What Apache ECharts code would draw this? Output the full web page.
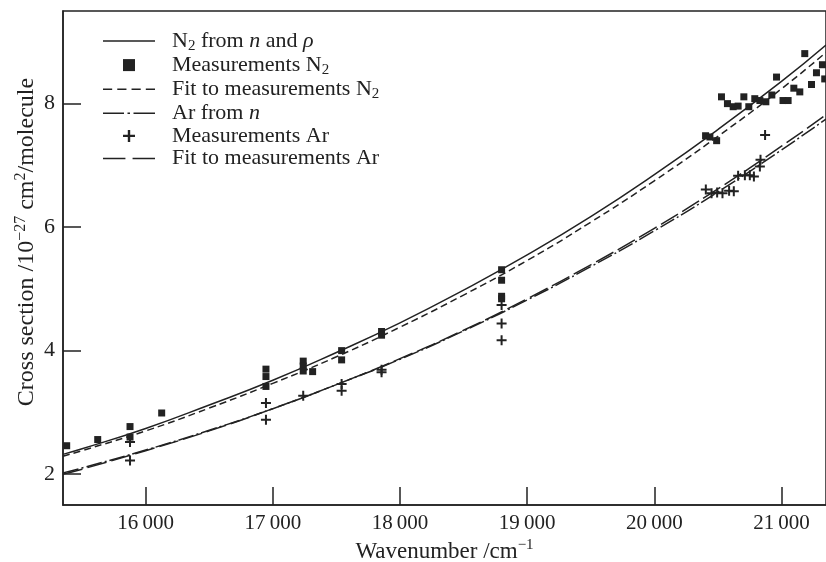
<!DOCTYPE html>
<html lang="en">
<head>
    <meta charset="UTF-8">
    <title>Cross section</title>
    <script src="https://cdn.jsdelivr.net/npm/echarts@6.0.0/dist/echarts.min.js"></script>
    <style>
        body { margin: 0; background: #fff; }
    </style>
</head>
<body>
    <div id="main" style="width: 826px;height:562px;"></div>
    <script type="text/javascript">
        // curve samples (wavenumber in cm^-1, cross section in 1e-27 cm^2)
        const curveWavenumber = [15350, 15500, 16000, 16500, 17000, 17500, 18000, 18500, 19000, 19500, 20000, 20500, 21000, 21350];
        const n2Theory = [2.32, 2.41, 2.74, 3.12, 3.52, 3.97, 4.45, 4.98, 5.55, 6.17, 6.85, 7.58, 8.36, 8.95];
        const n2Fit    = [2.29, 2.38, 2.70, 3.07, 3.47, 3.90, 4.38, 4.90, 5.46, 6.08, 6.75, 7.47, 8.24, 8.83];
        const arTheory = [2.02, 2.10, 2.39, 2.71, 3.06, 3.45, 3.86, 4.32, 4.82, 5.36, 5.94, 6.57, 7.25, 7.75];
        const arFit    = [2.00, 2.08, 2.38, 2.70, 3.06, 3.45, 3.87, 4.33, 4.84, 5.39, 5.98, 6.62, 7.31, 7.82];

        // measured points
        const n2MeasWavenumber = [15379, 15623, 15877, 15877, 16126, 16946, 16946, 16946, 17239, 17239, 17239, 17313, 17541, 17541, 17855, 17855,
            18799, 18799, 18799, 18799, 20403, 20437, 20490, 20528, 20575, 20620, 20659, 20704, 20743, 20790, 20830, 20877, 20924, 20961,
            21012, 21052, 21097, 21144, 21183, 21236, 21275, 21322, 21340];
        const n2MeasValue = [2.46, 2.56, 2.77, 2.60, 2.99, 3.70, 3.58, 3.42, 3.83, 3.75, 3.67, 3.66, 4.00, 3.85, 4.31, 4.25,
            5.31, 5.14, 4.88, 4.84, 7.48, 7.46, 7.40, 8.11, 8.00, 7.95, 7.96, 8.11, 7.95, 8.08, 8.05, 8.03, 8.14, 8.43,
            8.05, 8.05, 8.25, 8.19, 8.81, 8.31, 8.50, 8.63, 8.40];
        const arMeasWavenumber = [15877, 15877, 16946, 16946, 17239, 17541, 17541, 17855, 17855, 18799, 18799, 18799,
            20405, 20450, 20494, 20536, 20588, 20625, 20659, 20712, 20751, 20783, 20830, 20835, 20871];
        const arMeasValue = [2.52, 2.22, 3.15, 2.88, 3.27, 3.46, 3.35, 3.69, 3.65, 4.74, 4.44, 4.17,
            6.61, 6.55, 6.56, 6.55, 6.59, 6.58, 6.83, 6.84, 6.84, 6.82, 6.98, 7.09, 7.49];

        const serif = 'Liberation Serif';
        const ink = '#222';
        const plusPath = 'path://M4,0H6V4H10V6H6V10H4V6H0V4H4Z';

        // legend icons drawn as little filled paths so the dash patterns show
        const iconSolid = 'path://M0,0H52V1.6H0Z';
        const iconDash = 'path://M0,0H9V1.6H0Z M14,0H23V1.6H14Z M28,0H37V1.6H28Z M42,0H51V1.6H42Z';
        const iconDashDot = 'path://M0,0H21V1.6H0Z M24.5,0H27V1.6H24.5Z M30.5,0H52V1.6H30.5Z';
        const iconLongDash = 'path://M0,0H22V1.6H0Z M29,0H51V1.6H29Z';
        const iconSquare = 'path://M0,0H10V10H0Z';

        function pairs(xs, ys) {
            return xs.map((x, i) => [x, ys[i]]);
        }

        const legendRich = {
            N2T: 'N{sub|2} from {it|n} and {it|ρ}',
            N2M: 'Measurements N{sub|2}',
            N2F: 'Fit to measurements N{sub|2}',
            ArT: 'Ar from {it|n}',
            ArM: 'Measurements Ar',
            ArF: 'Fit to measurements Ar'
        };

        let options = {
            animation: false,
            backgroundColor: '#fff',
            grid: {
                left: 63, right: 0, top: 11, bottom: 57,
                containLabel: false, outerBoundsMode: 'none',
                show: true, borderColor: ink, borderWidth: 1.5
            },
            legend: {
                orient: 'vertical',
                left: 98, top: 25,
                itemWidth: 52, itemHeight: 12, itemGap: 0.6,
                data: [
                    { name: 'N2T', icon: iconSolid },
                    { name: 'N2M', icon: iconSquare },
                    { name: 'N2F', icon: iconDash },
                    { name: 'ArT', icon: iconDashDot },
                    { name: 'ArM', icon: plusPath },
                    { name: 'ArF', icon: iconLongDash }
                ],
                formatter: (name) => legendRich[name],
                textStyle: {
                    fontFamily: serif, fontSize: 22, color: ink, lineHeight: 22, padding: [0, 0, 0, 12],
                    rich: {
                        sub: { fontFamily: serif, fontSize: 15, color: ink, padding: [10, 0, 0, 0] },
                        it: { fontFamily: serif, fontSize: 22, color: ink, fontStyle: 'italic' }
                    }
                }
            },
            xAxis: {
                type: 'value',
                min: 15350, max: 21350, splitNumber: 6,
                name: 'Wavenumber /cm{sup|−1}',
                nameLocation: 'middle', nameGap: 33, nameMoveOverlap: false,
                nameTextStyle: {
                    fontFamily: serif, fontSize: 23, color: ink,
                    rich: { sup: { fontFamily: serif, fontSize: 15, color: ink, padding: [0, 0, 12, 0] } }
                },
                axisLine: { lineStyle: { color: ink, width: 1.5 } },
                axisTick: { inside: true, length: 18, lineStyle: { color: ink, width: 1.5 } },
                axisLabel: {
                    showMinLabel: false, showMaxLabel: false, margin: 8,
                    fontFamily: serif, fontSize: 21, color: ink,
                    formatter: (v) => Math.round(v / 1000) + '\u2009000'
                },
                splitLine: { show: false }
            },
            yAxis: {
                type: 'value',
                min: 1.5, max: 9.5, splitNumber: 4,
                name: 'Cross section /10{sup|−27} cm{sup|2}/molecule',
                nameLocation: 'middle', nameGap: 22, nameMoveOverlap: false,
                nameTextStyle: {
                    fontFamily: serif, fontSize: 24, color: ink, padding: [0, 0, 0, 32],
                    rich: { sup: { fontFamily: serif, fontSize: 16, color: ink, padding: [0, 0, 12, 0] } }
                },
                axisLine: { lineStyle: { color: ink, width: 1.5 } },
                axisTick: { inside: true, length: 18, lineStyle: { color: ink, width: 1.5 } },
                axisLabel: {
                    showMinLabel: false, showMaxLabel: false, margin: 8,
                    fontFamily: serif, fontSize: 22, color: ink
                },
                splitLine: { show: false }
            },
            series: [
                {
                    name: 'N2T', type: 'line', smooth: true, symbol: 'none',
                    data: pairs(curveWavenumber, n2Theory),
                    itemStyle: { color: ink },
                    lineStyle: { color: ink, width: 1.5, type: 'solid' }
                },
                {
                    name: 'N2M', type: 'scatter', symbol: 'rect', symbolSize: 7,
                    data: pairs(n2MeasWavenumber, n2MeasValue),
                    itemStyle: { color: ink, opacity: 1 }, z: 5
                },
                {
                    name: 'N2F', type: 'line', smooth: true, symbol: 'none',
                    data: pairs(curveWavenumber, n2Fit),
                    itemStyle: { color: ink },
                    lineStyle: { color: ink, width: 1.5, type: [7, 4] }
                },
                {
                    name: 'ArT', type: 'line', smooth: true, symbol: 'none',
                    data: pairs(curveWavenumber, arTheory),
                    itemStyle: { color: ink },
                    lineStyle: { color: ink, width: 1.5, type: [16, 3, 2, 3] }
                },
                {
                    name: 'ArM', type: 'scatter', symbol: plusPath, symbolSize: 10,
                    data: pairs(arMeasWavenumber, arMeasValue),
                    itemStyle: { color: ink, opacity: 1 }, z: 5
                },
                {
                    name: 'ArF', type: 'line', smooth: true, symbol: 'none',
                    data: pairs(curveWavenumber, arFit),
                    itemStyle: { color: ink },
                    lineStyle: { color: ink, width: 1.5, type: [20, 5] }
                }
            ]
        };

        let myChart = echarts.init(document.getElementById('main'));
        myChart.setOption(options);
    </script>
</body>
</html>
